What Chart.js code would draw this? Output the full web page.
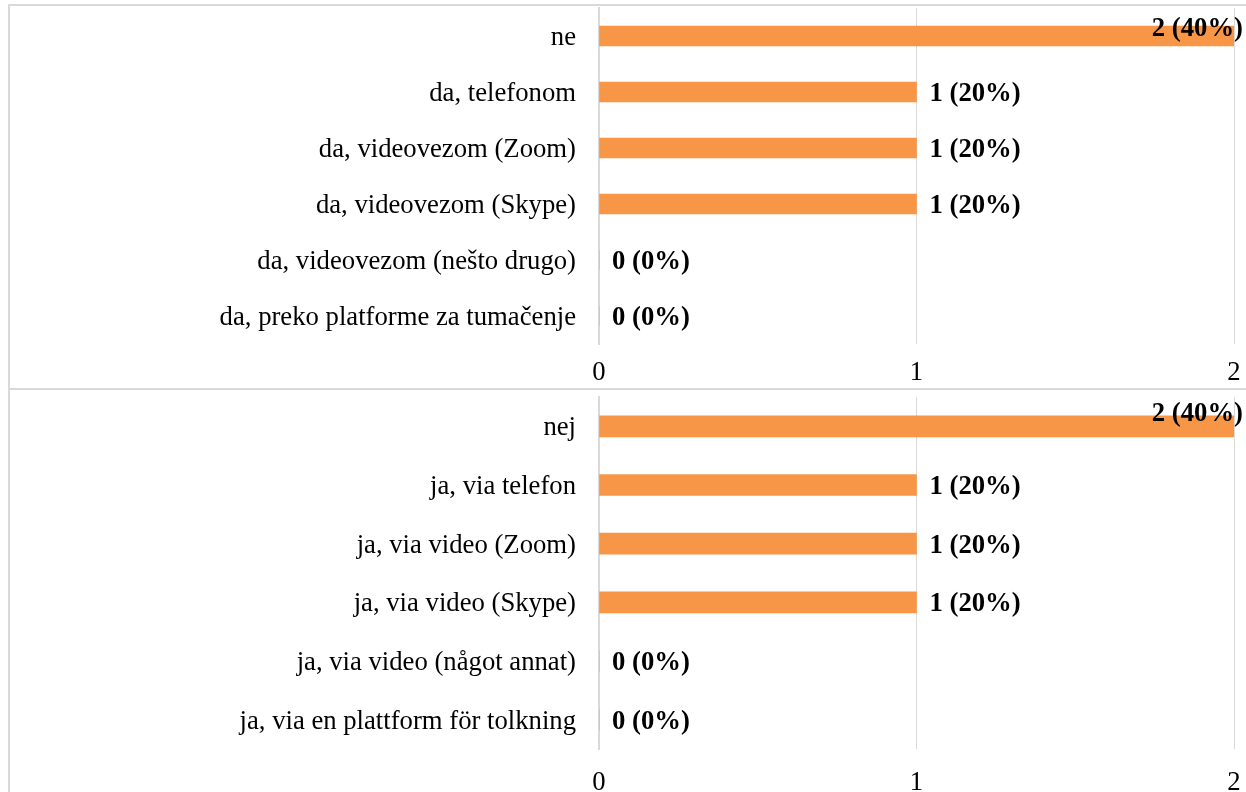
<!DOCTYPE html>
<html>
<head>
<meta charset="utf-8">
<script src="https://cdn.jsdelivr.net/npm/chart.js@4.4.1/dist/chart.umd.min.js"></script>
<style>
    body { margin: 0; background: #fff; width: 1246px; height: 792px; overflow: hidden; position: relative; }
    .panel { position: absolute; left: 8px; width: 1300px; border-left: 2px solid #d9d9d9; border-top: 2px solid #d9d9d9; }
    #p1 { top: 4px; height: 382px; }
    #p2 { top: 388px; height: 410px; }
    canvas { position: absolute; left: 0; top: 0; }
</style>
</head>
<body>
<div class="panel" id="p1"><canvas id="chartHr" width="1236" height="382"></canvas></div>
<div class="panel" id="p2"><canvas id="chartSv" width="1236" height="402"></canvas></div>
<script>
const categoriesHr = [
    "ne",
    "da, telefonom",
    "da, videovezom (Zoom)",
    "da, videovezom (Skype)",
    "da, videovezom (nešto drugo)",
    "da, preko platforme za tumačenje"
];
const valuesHr = [2, 1, 1, 1, 0, 0];
const percentHr = [40, 20, 20, 20, 0, 0];

const categoriesSv = [
    "nej",
    "ja, via telefon",
    "ja, via video (Zoom)",
    "ja, via video (Skype)",
    "ja, via video (något annat)",
    "ja, via en plattform för tolkning"
];
const valuesSv = [2, 1, 1, 1, 0, 0];
const percentSv = [40, 20, 20, 20, 0, 0];

const axisMin = 0;
const axisMax = 2;

const FONT = '"Liberation Serif", "Times New Roman", serif';
const SIZE = 26.7;
const GRID = "#d9d9d9";

const barLabels = {
    id: "barLabels",
    afterDatasetsDraw(chart, args, opts) {
        const ctx = chart.ctx;
        const meta = chart.getDatasetMeta(0);
        const vals = chart.data.datasets[0].data;
        ctx.save();
        ctx.font = "bold " + SIZE + "px " + FONT;
        ctx.fillStyle = "#000";
        ctx.textBaseline = "middle";
        meta.data.forEach((bar, i) => {
            const text = `${vals[i]} (${opts.pct[i]}%)`;
            if (vals[i] >= chart.scales.x.max) {
                ctx.textAlign = "right";
                ctx.fillText(text, bar.x + 9, bar.y + opts.topShift);
            } else {
                ctx.textAlign = "left";
                ctx.fillText(text, bar.x + 13, bar.y + 2);
            }
        });
        ctx.restore();
    }
};

function makeChart(id, labels, values, pct, cfg) {
    return new Chart(document.getElementById(id), {
        type: "bar",
        data: {
            labels: labels,
            datasets: [{
                data: values,
                backgroundColor: "#f79646",
                barThickness: cfg.thickness
            }]
        },
        options: {
            indexAxis: "y",
            responsive: false,
            animation: false,
            layout: { padding: { top: cfg.padTop, right: 12, left: 0, bottom: 0 } },
            plugins: {
                legend: { display: false },
                tooltip: { enabled: false },
                barLabels: { pct: pct, topShift: cfg.topShift }
            },
            scales: {
                x: {
                    min: axisMin,
                    max: axisMax,
                    ticks: { stepSize: 1, color: "#000", font: { family: FONT, size: SIZE }, padding: cfg.tickPad },
                    grid: { color: GRID, lineWidth: 1, drawTicks: false },
                    border: { display: false },
                    afterFit: (scale) => {
                        scale.height = cfg.xHeight;
                        scale.paddingLeft = 0;
                        scale.paddingRight = 0;
                    }
                },
                y: {
                    ticks: { color: "#000", font: { family: FONT, size: SIZE }, padding: 23, labelOffset: 2 },
                    grid: { display: false, drawTicks: false },
                    border: { color: GRID, width: 2 },
                    afterFit: (scale) => {
                        scale.width = 589;
                        scale.paddingTop = 0;
                        scale.paddingBottom = 0;
                    }
                }
            }
        },
        plugins: [barLabels]
    });
}

makeChart("chartHr", categoriesHr, valuesHr, percentHr, { thickness: 20, padTop: 2, xHeight: 44, tickPad: 13, topShift: -7 });
makeChart("chartSv", categoriesSv, valuesSv, percentSv, { thickness: 21, padTop: 7, xHeight: 43, tickPad: 18, topShift: -12 });
</script>
</body>
</html>
